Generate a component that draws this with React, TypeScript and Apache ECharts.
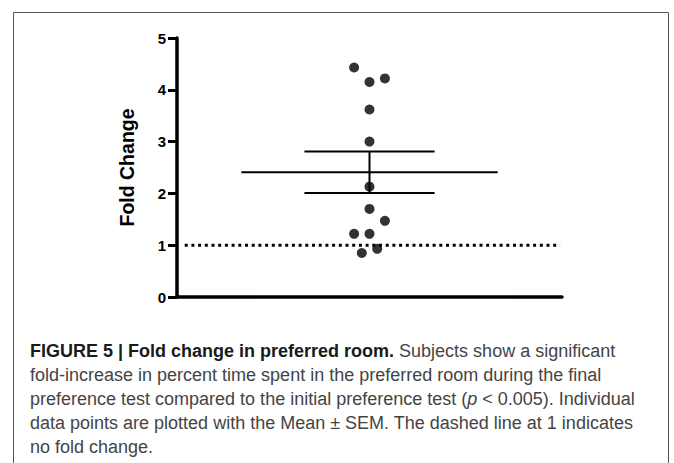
import React, { useEffect, useRef } from "react";
import * as echarts from "echarts";

// Individual data points: [x jitter offset (x-units), fold change]
const pointOffsets = [-0.4, 0.0, 0.4, 0.0, 0.0, 0.0, 0.0, 0.4, -0.4, 0.0, -0.2, 0.2];
const foldValues = [4.43, 4.15, 4.22, 3.62, 3.0, 2.13, 1.7, 1.47, 1.22, 1.22, 0.85, 0.93];
const MEAN = 2.41;
const SEM = 0.4;
const yTicks = [0, 1, 2, 3, 4, 5];
const REF_VALUE = 1;

const CENTER = 5;
const MEAN_HALF = 3.33;
const CAP_HALF = 1.69;

const captionLines = [
  [
    { t: "FIGURE 5 | Fold change in preferred room.", s: "b" },
    { t: " Subjects show a significant", s: "n" },
  ],
  [{ t: "fold-increase in percent time spent in the preferred room during the final", s: "n" }],
  [
    { t: "preference test compared to the initial preference test (", s: "n" },
    { t: "p", s: "i" },
    { t: " < 0.005). Individual", s: "n" },
  ],
  [{ t: "data points are plotted with the Mean ± SEM. The dashed line at 1 indicates", s: "n" }],
  [{ t: "no fold change.", s: "n" }],
];

export default function App() {
  const ref = useRef<HTMLDivElement>(null);
  useEffect(() => {
    if (!ref.current) return;
    const chart = echarts.init(ref.current, null, { renderer: "svg" });
    const lineStyle = { color: "#000", width: 2 };
    const lineSeries = (data: number[][]) => ({
      type: "line",
      data,
      symbol: "none",
      lineStyle,
      silent: true,
      z: 3,
    });
    const capFont = "'Liberation Sans', Arial, Helvetica, sans-serif";
    const graphicTexts = captionLines.map((line, i) => ({
      type: "text",
      x: 30,
      y: 351 + i * 24,
      style: {
        text: line.map((p) => `{${p.s}|${p.t}}`).join(""),
        verticalAlign: "middle",
        rich: {
          b: { fontFamily: capFont, fontSize: 18, fontWeight: "bold", fill: "#1a1a1a" },
          n: { fontFamily: capFont, fontSize: 18, fill: "#444" },
          i: { fontFamily: capFont, fontSize: 18, fontStyle: "italic", fill: "#444" },
        },
      },
    }));
    chart.setOption({
      animation: false,
      grid: { left: 177, top: 38, right: 112, bottom: 166 },
      xAxis: {
        type: "value",
        min: 0,
        max: 10,
        axisLine: { show: true, lineStyle: { color: "#000", width: 3.5 } },
        axisTick: { show: false },
        axisLabel: { show: false },
        splitLine: { show: false },
      },
      yAxis: {
        type: "value",
        min: yTicks[0],
        max: yTicks[yTicks.length - 1],
        interval: 1,
        name: "Fold Change",
        nameLocation: "middle",
        nameRotate: 90,
        nameGap: 40,
        nameTextStyle: {
          fontFamily: "'Liberation Sans', Arial, sans-serif",
          fontWeight: "bold",
          fontSize: 19.5,
          color: "#000",
        },
        axisLine: { show: true, lineStyle: { color: "#000", width: 3.5 } },
        axisTick: { show: true, length: 9, lineStyle: { color: "#000", width: 3 } },
        axisLabel: {
          fontFamily: "'Liberation Sans', Arial, sans-serif",
          fontWeight: "bold",
          fontSize: 15,
          color: "#000",
          margin: 11,
        },
        splitLine: { show: false },
      },
      graphic: [
        {
          type: "polyline",
          shape: { points: [[13.5, 463], [13.5, 12.5], [668.5, 12.5], [668.5, 463]] },
          style: { stroke: "#555", lineWidth: 1, fill: "none" },
        },
        ...graphicTexts,
      ],
      series: [
        {
          type: "line",
          data: [[0.2, REF_VALUE], [9.95, REF_VALUE]],
          symbol: "none",
          silent: true,
          lineStyle: { color: "#000", width: 3, type: [3, 3.7] },
          z: 2,
        },
        lineSeries([[CENTER - MEAN_HALF, MEAN], [CENTER + MEAN_HALF, MEAN]]),
        lineSeries([[CENTER - CAP_HALF, MEAN + SEM], [CENTER + CAP_HALF, MEAN + SEM]]),
        lineSeries([[CENTER - CAP_HALF, MEAN - SEM], [CENTER + CAP_HALF, MEAN - SEM]]),
        lineSeries([[CENTER, MEAN - SEM], [CENTER, MEAN + SEM]]),
        {
          type: "scatter",
          data: foldValues.map((v, i) => [CENTER + pointOffsets[i], v]),
          symbol: "circle",
          symbolSize: 10,
          itemStyle: { color: "#000" },
          z: 4,
        },
      ],
    });
    return () => chart.dispose();
  }, []);
  return (
    <div
      ref={ref}
      style={{ position: "absolute", left: 0, top: 0, width: 674, height: 463, background: "#fff" }}
    />
  );
}
